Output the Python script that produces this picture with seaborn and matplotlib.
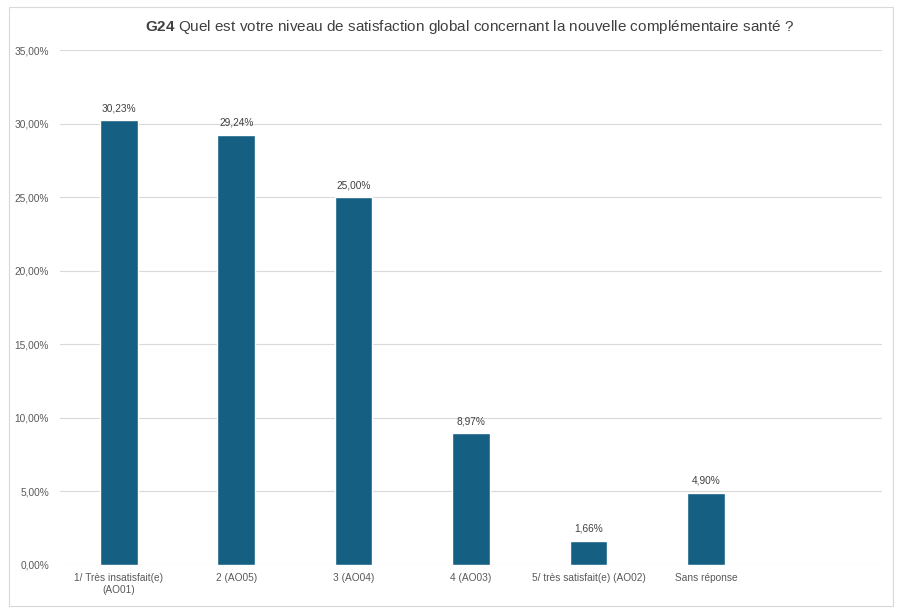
import matplotlib
matplotlib.use("Agg")
import matplotlib.pyplot as plt
import seaborn as sns
import pandas as pd
from matplotlib.patches import Rectangle
from matplotlib.ticker import FuncFormatter, MultipleLocator

categories = ["1/ Très insatisfait(e)\n(AO01)", "2 (AO05)", "3 (AO04)", "4 (AO03)",
              "5/ très satisfait(e) (AO02)", "Sans réponse"]
values = [30.23, 29.24, 25.00, 8.97, 1.66, 4.90]
empty_slot = " "

sns.set_theme(style="white")
plt.rcParams['font.family'] = ['Liberation Sans', 'DejaVu Sans']
plt.rcParams['mathtext.fontset'] = 'custom'
plt.rcParams['mathtext.rm'] = 'Liberation Sans'
plt.rcParams['mathtext.bf'] = 'Liberation Sans:bold'

df = pd.DataFrame({"cat": categories, "val": values})
order = categories + [empty_slot]

fig = plt.figure(figsize=(9, 6.12), dpi=100)
ax = fig.add_axes([60/900, 1-565/612, 822/900, 515/612])

sns.barplot(data=df, x="cat", y="val", order=order, color="#156082",
            width=0.32, saturation=1, ax=ax)

ax.set_ylim(0, 35)
ax.yaxis.set_major_locator(MultipleLocator(5))
ax.yaxis.set_major_formatter(FuncFormatter(lambda v, p: f"{v:.2f}%".replace(".", ",")))
ax.grid(axis="y", color="#d9d9d9", linewidth=0.8)
ax.set_axisbelow(True)
for s in ax.spines.values():
    s.set_visible(False)
ax.tick_params(axis="both", length=0, labelsize=7.3, colors="#595959", pad=6)
ax.tick_params(axis="y", pad=8)
ax.set_xlabel("")
ax.set_ylabel("")

for c in ax.containers:
    ax.bar_label(c, labels=[f"{v:.2f}%".replace(".", ",") for v in values],
                 fontsize=7.3, color="#404040", padding=5)

fig.text(470/900, 1-27/612, r"$\bf{G24}$ Quel est votre niveau de satisfaction global concernant la nouvelle complémentaire santé ?",
         ha="center", va="center", fontsize=11, color="#404040")

fig.patches.append(Rectangle((9/900, 1-606/612), 884/900, 599/612, transform=fig.transFigure,
                             fill=False, edgecolor="#d9d9d9", linewidth=0.8))

fig.savefig("out.png", dpi=100)
